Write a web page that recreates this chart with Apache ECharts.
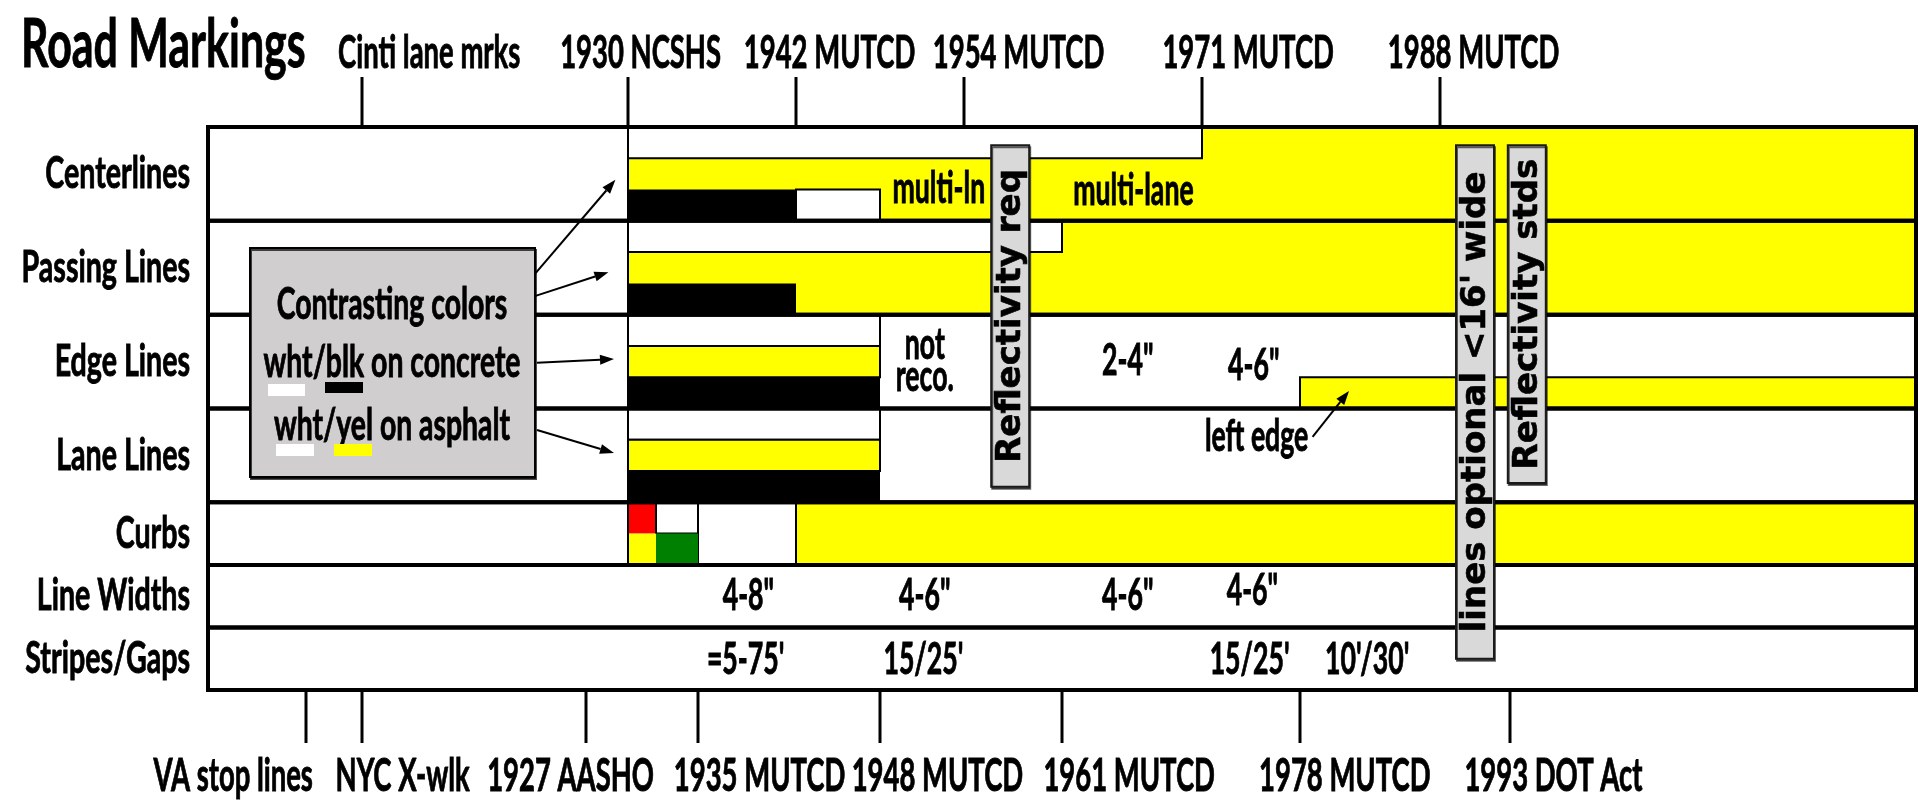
<!DOCTYPE html>
<html>
<head>
<meta charset="utf-8">
<title>Road Markings</title>
<script src="https://cdn.jsdelivr.net/npm/echarts@6/dist/echarts.min.js"></script>
<style>
  html, body { margin: 0; padding: 0; background: #fff; }
  #chart { width: 1920px; height: 800px; }
</style>
</head>
<body>
<div id="chart"></div>
<script>
// rows of the timeline and how many sub-lanes each one has
const rowNames = ['Centerlines', 'Passing Lines', 'Edge Lines', 'Lane Lines', 'Curbs', 'Line Widths', 'Stripes/Gaps'];
const rowLanes = [3, 3, 3, 3, 2, 2, 2];
const firstYear = 1900;
const lastYear = 2022;

// [from year, to year, top lane, bottom lane, colour, outlined]
const segments = [
  [1930, lastYear, 0, 3, 'yellow', 0],
  [1930, 1971, 0, 1, 'white', 1],
  [1930, 1942, 2, 3, 'black', 0],
  [1942, 1948, 2, 3, 'white', 1],
  [1930, lastYear, 3, 6, 'yellow', 0],
  [1930, 1961, 3, 4, 'white', 1],
  [1930, 1942, 5, 6, 'black', 0],
  [1930, 1948, 6, 7, 'white', 1],
  [1930, 1948, 7, 8, 'yellow', 1],
  [1930, 1948, 8, 9, 'black', 0],
  [1978, lastYear, 8, 9, 'yellow', 1],
  [1930, 1948, 9, 10, 'white', 1],
  [1930, 1948, 10, 11, 'yellow', 1],
  [1930, 1948, 11, 12, 'black', 0],
  [1942, lastYear, 12, 14, 'yellow', 0],
  [1935, 1942, 12, 14, 'white', 1],
  [1930, 1932, 12, 13, 'red', 0],
  [1932, 1935, 12, 13, 'white', 1],
  [1930, 1932, 13, 14, 'yellow', 0],
  [1932, 1935, 13, 14, 'green', 0]
];

// milestones: [year, label]
const topMilestones = [[1911, 'Cinti lane mrks'], [1930, '1930 NCSHS'], [1942, '1942 MUTCD'], [1954, '1954 MUTCD'], [1971, '1971 MUTCD'], [1988, '1988 MUTCD']];
const bottomMilestones = [[1907, 'VA stop lines'], [1911, 'NYC X-wlk'], [1927, '1927 AASHO'], [1935, '1935 MUTCD'], [1948, '1948 MUTCD'], [1961, '1961 MUTCD'], [1978, '1978 MUTCD'], [1993, '1993 DOT Act']];
// where each milestone label sits (in years)
const topLabelAt = [1915.8, 1930.9, 1944.4, 1957.9, 1974.3, 1990.4];
const bottomLabelAt = [1901.8, 1913.9, 1925.9, 1939.4, 1952.1, 1965.8, 1981.2, 1996.1];

// guide line under the 1930 milestone: [year, top lane, bottom lane]
const guides = [[1930, 0, 14]];

// notes written inside the rows: [year, lane, text]
const notes = [
  [1952.2, 2.0, 'multi-ln'],
  [1966.1, 2.05, 'multi-lane'],
  [1951.2, 7.5, 'not\nreco.'],
  [1965.7, 7.5, '2-4"'],
  [1974.7, 7.65, '4-6"'],
  [1974.9, 9.9, 'left edge'],
  [1938.6, 15.0, '4-8"'],
  [1951.2, 15.0, '4-6"'],
  [1965.7, 15.0, '4-6"'],
  [1974.6, 14.85, '4-6"'],
  [1938.4, 17.05, "=5-75'"],
  [1951.1, 17.05, "15/25'"],
  [1974.4, 17.05, "15/25'"],
  [1982.8, 17.05, "10'/30'"]
];

// vertical call-outs: [year, top lane, bottom lane, text]
const callouts = [
  [1957.3, 0.58, 11.5, 'Reflectivity req'],
  [1990.5, 0.58, 17.0, "lines optional <16' wide"],
  [1994.2, 0.58, 11.38, 'Reflectivity stds']
];

// arrows: [from year, from lane, to year, to lane]
const arrows = [
  [1923.4, 4.67, 1929.1, 1.69],
  [1923.4, 5.40, 1928.6, 4.64],
  [1923.5, 7.54, 1929.0, 7.42],
  [1923.5, 9.69, 1929.0, 10.42],
  [1978.9, 9.91, 1981.5, 8.44]
];

const colours = { yellow: '#ffff00', white: '#ffffff', black: '#000000', red: '#ff0000', green: '#008000' };
const FONT = 'Lato, "Liberation Sans", sans-serif';

// lane where every row starts
const rowStart = [];
let acc = 0;
rowLanes.forEach(function (n) { rowStart.push(acc); acc += n; });
const totalLanes = acc;

// condensed bold text (the original lettering is squeezed sideways)
function txt(x, y, text, size, align, sx, z) {
  return {
    type: 'text', x: x, y: y, scaleX: sx, z: z || 0,
    style: { text: text, fontFamily: FONT, fontWeight: 'bold', fontSize: size, fill: '#000',
      stroke: '#000', lineWidth: 0.9,
      align: align || 'center', verticalAlign: 'middle', lineHeight: 32 }
  };
}

let myChart = echarts.init(document.getElementById('chart'));

var option = {
  animation: false,
  backgroundColor: '#fff',
  grid: { left: 208, right: 4, top: 127, bottom: 110 },
  xAxis: { type: 'value', min: firstYear, max: lastYear, show: false },
  yAxis: { type: 'value', min: 0, max: totalLanes, inverse: true, show: false },
  graphic: [
    txt(21, 46, 'Road Markings', 66, 'left', 0.65),
    { type: 'rect', z: 100, shape: { x: 250, y: 248, width: 285, height: 229 },
      style: { fill: '#d0cece', stroke: '#000', lineWidth: 2, shadowColor: 'rgba(0,0,0,0.7)', shadowOffsetX: 1, shadowOffsetY: 2 } },
    txt(392, 305, 'Contrasting colors', 43, 'center', 0.66, 101),
    txt(392, 363, 'wht/blk on concrete', 43, 'center', 0.66, 101),
    txt(392, 426, 'wht/yel on asphalt', 43, 'center', 0.66, 101),
    { type: 'rect', z: 101, shape: { x: 268, y: 384, width: 37, height: 12 }, style: { fill: '#fff' } },
    { type: 'rect', z: 101, shape: { x: 325, y: 382, width: 38, height: 11 }, style: { fill: '#000' } },
    { type: 'rect', z: 101, shape: { x: 276, y: 444, width: 38, height: 12 }, style: { fill: '#fff' } },
    { type: 'rect', z: 101, shape: { x: 334, y: 444, width: 38, height: 12 }, style: { fill: '#ffff00' } }
  ],
  series: [
    {
      type: 'custom', name: 'segments', clip: false, z: 1,
      data: segments.map(function (s) { return [s[0], s[1], s[2], s[3]]; }),
      encode: { x: [0, 1], y: [2, 3] },
      renderItem: function (params, api) {
        const s = segments[params.dataIndex];
        const a = api.coord([api.value(0), api.value(2)]);
        const b = api.coord([api.value(1), api.value(3)]);
        return {
          type: 'rect',
          shape: { x: a[0], y: a[1], width: b[0] - a[0], height: b[1] - a[1] },
          style: { fill: colours[s[4]], stroke: s[5] ? '#000' : null, lineWidth: 2 }
        };
      }
    },
    {
      type: 'custom', name: 'guides', clip: false, z: 2,
      data: guides,
      renderItem: function (params, api) {
        const a = api.coord([api.value(0), api.value(1)]);
        const b = api.coord([api.value(0), api.value(2)]);
        return { type: 'line', shape: { x1: a[0], y1: a[1], x2: b[0], y2: b[1] }, style: { stroke: '#000', lineWidth: 2 } };
      }
    },
    {
      type: 'custom', name: 'rows', clip: false, z: 3,
      data: rowNames.map(function (n, i) { return [firstYear, lastYear, rowStart[i], rowStart[i] + rowLanes[i]]; }),
      renderItem: function (params, api) {
        const a = api.coord([api.value(0), api.value(2)]);
        const b = api.coord([api.value(1), api.value(3)]);
        return {
          type: 'group',
          children: [
            { type: 'rect', shape: { x: a[0], y: a[1], width: b[0] - a[0], height: b[1] - a[1] },
              style: { fill: null, stroke: '#000', lineWidth: 4 } },
            txt(a[0] - 18, (a[1] + b[1]) / 2, rowNames[params.dataIndex], 44, 'right', 0.65)
          ]
        };
      }
    },
    {
      type: 'custom', name: 'top milestones', clip: false, z: 4,
      data: topMilestones.map(function (m, i) { return [m[0], topLabelAt[i]]; }),
      renderItem: function (params, api) {
        const p = api.coord([api.value(0), 0]);
        const l = api.coord([api.value(1), 0]);
        return {
          type: 'group',
          children: [
            { type: 'line', shape: { x1: p[0], y1: p[1] - 50, x2: p[0], y2: p[1] }, style: { stroke: '#000', lineWidth: 3 } },
            txt(l[0], p[1] - 74, topMilestones[params.dataIndex][1], 45, 'center', 0.61)
          ]
        };
      }
    },
    {
      type: 'custom', name: 'bottom milestones', clip: false, z: 4,
      data: bottomMilestones.map(function (m, i) { return [m[0], bottomLabelAt[i]]; }),
      renderItem: function (params, api) {
        const p = api.coord([api.value(0), totalLanes]);
        const l = api.coord([api.value(1), totalLanes]);
        return {
          type: 'group',
          children: [
            { type: 'line', shape: { x1: p[0], y1: p[1], x2: p[0], y2: p[1] + 53 }, style: { stroke: '#000', lineWidth: 3 } },
            txt(l[0], p[1] + 86, bottomMilestones[params.dataIndex][1], 45, 'center', 0.61)
          ]
        };
      }
    },
    {
      type: 'custom', name: 'notes', clip: false, z: 5,
      data: notes.map(function (n) { return [n[0], n[1]]; }),
      renderItem: function (params, api) {
        const p = api.coord([api.value(0), api.value(1)]);
        return txt(p[0], p[1], notes[params.dataIndex][2], 43, 'center', 0.62);
      }
    },
    {
      type: 'custom', name: 'arrows', clip: false, z: 6,
      data: arrows,
      renderItem: function (params, api) {
        const a = api.coord([api.value(0), api.value(1)]);
        const b = api.coord([api.value(2), api.value(3)]);
        const ang = Math.atan2(b[1] - a[1], b[0] - a[0]);
        const len = 14, half = 5;
        const bx = b[0] - len * Math.cos(ang), by = b[1] - len * Math.sin(ang);
        const nx = -Math.sin(ang) * half, ny = Math.cos(ang) * half;
        return {
          type: 'group',
          children: [
            { type: 'line', shape: { x1: a[0], y1: a[1], x2: bx, y2: by }, style: { stroke: '#000', lineWidth: 2 } },
            { type: 'polygon', shape: { points: [[b[0], b[1]], [bx + nx, by + ny], [bx - nx, by - ny]] }, style: { fill: '#000' } }
          ]
        };
      }
    },
    {
      type: 'custom', name: 'callouts', clip: false, z: 7,
      data: callouts.map(function (c) { return [c[0], c[1], c[2]]; }),
      renderItem: function (params, api) {
        const t = api.coord([api.value(0), api.value(1)]);
        const b = api.coord([api.value(0), api.value(2)]);
        const w = 38;
        return {
          type: 'group',
          children: [
            { type: 'rect', shape: { x: t[0] - w / 2, y: t[1], width: w, height: b[1] - t[1] },
              style: { fill: '#d9d9d9', stroke: '#1a1a1a', lineWidth: 2, shadowColor: 'rgba(0,0,0,0.6)', shadowOffsetX: 1, shadowOffsetY: 2 } },
            { type: 'text', x: t[0] + 1, y: (t[1] + b[1]) / 2, rotation: Math.PI / 2,
              style: { text: callouts[params.dataIndex][3], fontFamily: '"DejaVu Sans", Verdana, sans-serif', fontWeight: 'bold',
                fontSize: 34, fill: '#000', stroke: '#000', lineWidth: 0.6, align: 'center', verticalAlign: 'middle' } }
          ]
        };
      }
    }
  ]
};

myChart.setOption(option);
</script>
</body>
</html>
